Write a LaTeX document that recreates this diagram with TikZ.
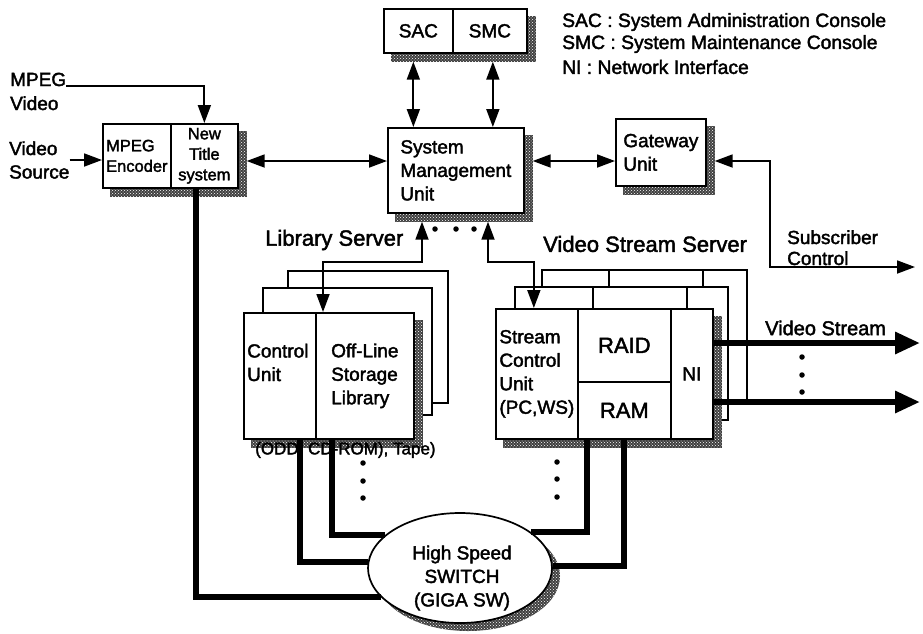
\documentclass[tikz,border=0pt]{standalone}
\usepackage{fontspec}
\setmainfont{Liberation Sans}[FakeBold=2]
\usetikzlibrary{arrows.meta,shapes.geometric,patterns}
\pgfdeclarelayer{stack}
\pgfdeclarelayer{shade}
\pgfsetlayers{stack,shade,main}
\newcommand\fsz[2]{\fontsize{#1}{#2}\selectfont}

\begin{document}
\begin{tikzpicture}[x=1pt,y=-1pt,
  cell/.style={draw, fill=white, line width=1.7pt, inner sep=0pt, rectangle,
               anchor=north west, align=center, font=\fsz{19}{23.5}},
  sheet/.style={draw, fill=white, line width=1.7pt},
  txt/.style={inner sep=0pt, align=left, font=\fsz{19}{23.5}},
  dropshade/.style={fill=black!75, postaction={pattern=crosshatch dots, pattern color=white}},
  wire/.style={line width=1.8pt},
  arr/.style={wire, -{Triangle[length=18pt,width=13pt]}},
  darr/.style={wire, {Triangle[length=18pt,width=13pt]}-{Triangle[length=18pt,width=13pt]}},
  bus/.style={line width=6pt},
  busarr/.style={line width=6pt, -{Triangle[length=25pt,width=21pt]}},
  dot/.style={circle, fill, inner sep=0pt, minimum size=5.5pt},
]
\useasboundingbox (0,0) rectangle (923,633);

% ---------- consoles and legend ----------
\node[cell, minimum width=69pt, minimum height=44pt] (sac) at (383,8) {SAC};
\node[cell, minimum width=74pt, minimum height=44pt] (smc) at (452,8) {SMC};
\node[txt, anchor=west, font=\fsz{19.3}{23}] (lgA) at (562,22) {SAC : System Administration Console};
\node[txt, anchor=west, font=\fsz{19.3}{23}] (lgB) at (562,44) {SMC : System Maintenance Console};
\node[txt, anchor=west, font=\fsz{19.3}{23}] (lgC) at (562,67) {NI : Network Interface};

% ---------- management, gateway, encoder ----------
\node[cell, minimum width=136pt, minimum height=85pt, align=left] (smu) at (387,127) {System\\Management\\Unit};
\node[cell, minimum width=90pt, minimum height=67pt, align=left] (gw) at (615,118) {Gateway\\Unit};
\node[cell, minimum width=68pt, minimum height=64pt, align=left, font=\fsz{16.5}{20.5}] (enc) at (102,123) {MPEG\\Encoder};
\node[cell, minimum width=67pt, minimum height=64pt, font=\fsz{16.5}{20.5}] (nt) at (170,123) {New\\Title\\system};

\node[txt, anchor=base west] (mpA) at (10,86) {MPEG};
\node[txt, anchor=base west] (mpB) at (10,110) {Video};
\node[txt, anchor=west] (vs) at (9,160) {Video\\Source};

% ---------- library server ----------
\begin{pgfonlayer}{stack}
  \draw[sheet] (288,271) rectangle (448,403);
  \draw[sheet] (263,288) rectangle (432,415);
\end{pgfonlayer}
\node[cell, minimum width=72pt, minimum height=126pt] (ctl) at (243,312) {};
\node[txt, anchor=base west] (ctlT) at (247,381) {Control\\Unit};
\node[cell, minimum width=98pt, minimum height=126pt, align=left] (off) at (315,312) {Off-Line\\Storage\\Library};
\node[txt, anchor=west, font=\fsz{22}{26}] (libL) at (265,240) {Library Server};
\node[txt, anchor=west, font=\fsz{17}{20}] (odd) at (255,450) {(ODD, CD-ROM), Tape)};

% ---------- video stream server ----------
\begin{pgfonlayer}{stack}
  \draw[sheet] (542,270) rectangle (747,401);
  \draw[wire] (609,270) -- (609,401) (703,270) -- (703,401);
  \draw[sheet] (515,287) rectangle (728,420);
  \draw[wire] (593,287) -- (593,420) (687,287) -- (687,420);
\end{pgfonlayer}
\node[cell, minimum width=82pt, minimum height=130pt, align=left] (scu) at (495,308) {Stream\\Control\\Unit\\(PC,WS)};
\node[cell, minimum width=93pt, minimum height=73pt, font=\fsz{22}{26}] (raid) at (577,308) {RAID};
\node[cell, minimum width=93pt, minimum height=57pt, font=\fsz{22}{26}] (ram) at (577,381) {RAM};
\node[cell, minimum width=42pt, minimum height=130pt] (ni) at (670,308) {NI};
\node[txt, anchor=west, font=\fsz{22}{26}] (vssL) at (543,244) {Video Stream Server};

% ---------- switch ----------
\node[draw, fill=white, ellipse, line width=1.7pt, minimum width=184pt, minimum height=110pt, inner sep=0pt] (sw) at (460,568) {};
\node[txt, align=center] (swT) at (462,578) {High Speed\\SWITCH\\(GIGA SW)};

% ---------- drop shadows ----------
\begin{pgfonlayer}{shade}
  \fill[dropshade] ([shift={(8,8)}]sac.north west) rectangle ([shift={(8,8)}]smc.south east);
  \fill[dropshade] ([shift={(8,8)}]smu.north west) rectangle ([shift={(8,8)}]smu.south east);
  \fill[dropshade] ([shift={(8,8)}]gw.north west) rectangle ([shift={(8,8)}]gw.south east);
  \fill[dropshade] ([shift={(8,8)}]enc.north west) rectangle ([shift={(8,8)}]nt.south east);
  \fill[dropshade] ([shift={(8,8)}]ctl.north west) rectangle ([shift={(8,8)}]off.south east);
  \fill[dropshade] ([shift={(8,8)}]scu.north west) rectangle ([shift={(8,8)}]ni.south east);
  \node[ellipse, dropshade, minimum width=184pt, minimum height=110pt, inner sep=0pt] (swsh) at ([shift={(8,8)}]sw.center) {};
\end{pgfonlayer}

% ---------- gigabit links ----------
\draw[bus] ([xshift=-8pt]nt.south) |- (sw.200);
\draw[bus] ([xshift=20pt]ctl.south) |- (sw.176);
\draw[bus] ([xshift=17pt]off.south west) |- (sw.156);
\draw[bus] ([xshift=10pt]ram.south west) |- (sw.27);
\draw[bus] (ram.south) |- (sw.1);

% ---------- control connectors ----------
\coordinate (busY) at (0,161);
\coordinate (libY) at (0,262);
\coordinate (subKnee) at (770,267);
\coordinate (subEnd) at (915,267);
\coordinate (vsA) at (920,343);
\coordinate (vsB) at (920,402);

\draw[darr] ([xshift=-5pt,yshift=-8pt]sac.south) -- ([xshift=-5pt]sac.south |- smu.north);
\draw[darr] ([xshift=3pt,yshift=-8pt]smc.south) -- ([xshift=3pt]smc.south |- smu.north);
\draw[arr] (mpA.base east) -| (nt.north);
\draw[arr] (vs.east) -- (vs.east -| enc.west);
\draw[darr] ([xshift=8pt]nt.east |- busY) -- (smu.west |- busY);
\draw[darr] ([xshift=8pt]smu.east |- busY) -- (gw.west |- busY);
\draw[darr] ([xshift=8pt]gw.east |- busY) -| (subKnee) -- (subEnd);
\draw[darr] ([xshift=35pt,yshift=-8pt]smu.south west) -- ([xshift=35pt]smu.south west |- libY) -| ([xshift=8pt]off.north west);
\draw[darr] ([xshift=101pt,yshift=-8pt]smu.south west) -- ([xshift=101pt]smu.south west |- libY) -| ([xshift=-3pt]scu.north);

\node[txt, anchor=base west] (subA) at (787,244) {Subscriber};
\node[txt, anchor=base west] (subB) at (787,265) {Control};

% ---------- video stream outputs ----------
\draw[busarr] (vsA -| ni.east) -- (vsA);
\draw[busarr] (vsB -| ni.east) -- (vsB);
\node[txt, anchor=west, font=\fsz{20}{24}] (vsOut) at (765,328) {Video Stream};

% ---------- ellipsis dots ----------
\node[dot] (dA) at (435,229) {};
\node[dot] (dB) at (456,229) {};
\node[dot] (dC) at (474,229) {};
\node[dot] (dD) at (802,357) {};
\node[dot] (dE) at (802,375) {};
\node[dot] (dF) at (802,392) {};
\node[dot] (dG) at (363,463) {};
\node[dot] (dH) at (363,481) {};
\node[dot] (dI) at (363,498) {};
\node[dot] (dJ) at (557,462) {};
\node[dot] (dK) at (557,479) {};
\node[dot] (dL) at (557,497) {};
\end{tikzpicture}
\end{document}
